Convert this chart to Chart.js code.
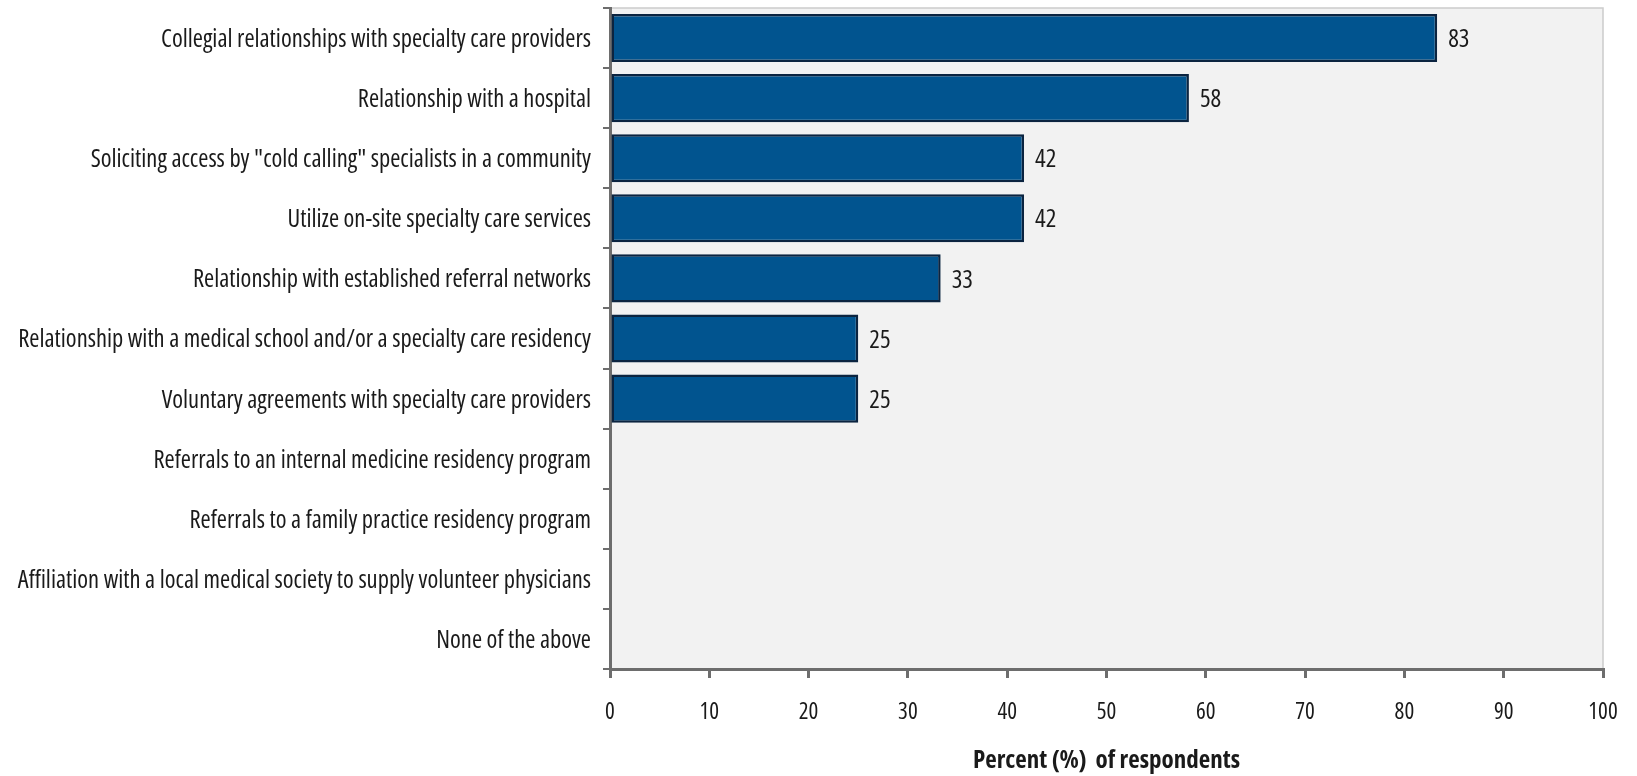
<!DOCTYPE html>
<html>
<head>
<meta charset="utf-8">
<script src="https://cdn.jsdelivr.net/npm/chart.js@4/dist/chart.umd.min.js"></script>
<style>
  html, body { margin: 0; padding: 0; background: #ffffff; }
  #wrap { width: 1637px; height: 776px; position: relative; }
</style>
</head>
<body>
<div id="wrap"><canvas id="c" width="1637" height="776"></canvas></div>
<script>
const categories = [
  'Collegial relationships with specialty care providers',
  'Relationship with a hospital',
  'Soliciting access by "cold calling" specialists in a community',
  'Utilize on-site specialty care services',
  'Relationship with established referral networks',
  'Relationship with a medical school and/or a specialty care residency',
  'Voluntary agreements with specialty care providers',
  'Referrals to an internal medicine residency program',
  'Referrals to a family practice residency program',
  'Affiliation with a local medical society to supply volunteer physicians',
  'None of the above'
];
const percentValues = [83.3, 58.3, 41.7, 41.7, 33.3, 25, 25, 0, 0, 0, 0];
const xTickValues = [0, 10, 20, 30, 40, 50, 60, 70, 80, 90, 100];
const xAxisTitle = 'Percent (%)  of respondents';

const FAMILY = '"Open Sans", "DejaVu Sans", sans-serif';

const plotBg = {
  id: 'plotBg',
  beforeDraw(chart) {
    const { ctx, chartArea: a } = chart;
    ctx.save();
    ctx.fillStyle = '#f2f2f2';
    ctx.fillRect(a.left, a.top, a.right - a.left, a.bottom - a.top);
    ctx.strokeStyle = '#cccccc';
    ctx.lineWidth = 1.5;
    ctx.beginPath();
    ctx.moveTo(a.left, a.top);
    ctx.lineTo(a.right, a.top);
    ctx.lineTo(a.right, a.bottom);
    ctx.stroke();
    ctx.restore();
  }
};

const valueLabels = {
  id: 'valueLabels',
  afterDatasetsDraw(chart) {
    const { ctx } = chart;
    const meta = chart.getDatasetMeta(0);
    ctx.save();
    ctx.font = 'condensed 25px ' + FAMILY;
    ctx.fillStyle = '#1a1a1a';
    ctx.textAlign = 'left';
    ctx.textBaseline = 'middle';
    meta.data.forEach((bar, i) => {
      const v = percentValues[i];
      if (v > 0) ctx.fillText(String(Math.round(v)), bar.x + 11, bar.y + 2);
    });
    ctx.restore();
  }
};

new Chart(document.getElementById('c'), {
  type: 'bar',
  data: {
    labels: categories,
    datasets: [{
      data: percentValues,
      backgroundColor: '#01548f',
      borderColor: '#0b2440',
      borderWidth: 2.5,
      borderSkipped: false,
      categoryPercentage: 1,
      barPercentage: 0.8
    }]
  },
  options: {
    indexAxis: 'y',
    responsive: false,
    animation: false,
    events: [],
    layout: { padding: { top: 8, right: 34, left: 0, bottom: 0 } },
    plugins: { legend: { display: false }, tooltip: { enabled: false } },
    scales: {
      y: {
        afterFit(scale) { scale.width = 610; scale.paddingTop = 0; scale.paddingBottom = 0; },
        grid: { drawOnChartArea: false, drawTicks: true, tickLength: 7, color: '#6d6d6d', lineWidth: 2, offset: true },
        border: { color: '#6d6d6d', width: 3 },
        ticks: { color: '#1a1a1a', font: { family: FAMILY, weight: 'condensed', size: 24.5 }, padding: 12, labelOffset: 2, autoSkip: false }
      },
      x: {
        min: 0, max: 100,
        afterBuildTicks(scale) { scale.ticks = xTickValues.map(v => ({ value: v })); },
        afterFit(scale) { scale.height = 107; scale.paddingLeft = 0; scale.paddingRight = 0; },
        grid: { drawOnChartArea: false, drawTicks: true, tickLength: 9, color: '#6d6d6d', lineWidth: 3 },
        border: { color: '#6d6d6d', width: 3 },
        ticks: { color: '#1a1a1a', font: { family: FAMILY, weight: 'condensed', size: 23 }, padding: 21, maxRotation: 0 },
        title: {
          display: true, text: xAxisTitle, color: '#1a1a1a',
          font: { family: FAMILY, weight: 'bold condensed', size: 25 },
          padding: { top: 0, bottom: 0 }
        }
      }
    }
  },
  plugins: [plotBg, valueLabels]
});
</script>
</body>
</html>
